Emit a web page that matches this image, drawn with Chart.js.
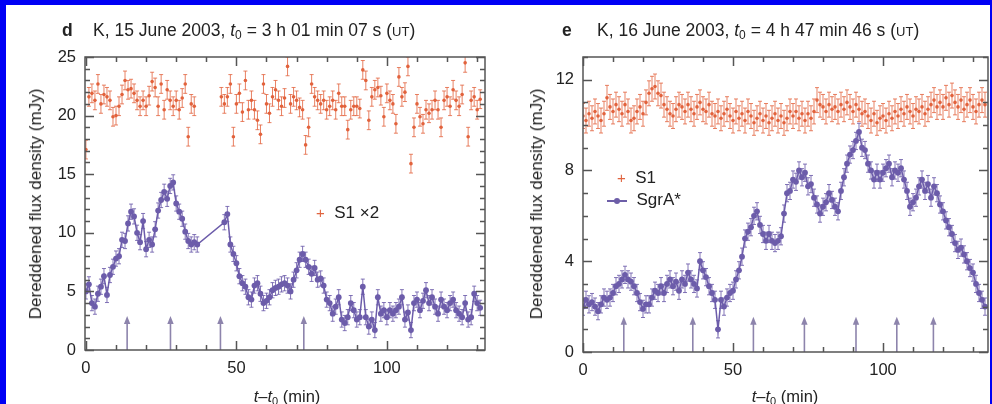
<!DOCTYPE html>
<html>
<head>
<meta charset="utf-8">
<script src="https://cdn.jsdelivr.net/npm/chart.js@4.4.0/dist/chart.umd.min.js"></script>
<style>
  html, body { margin: 0; padding: 0; }
  body { width: 992px; height: 404px; background: #0000f5; position: relative; overflow: hidden;
         font-family: "Liberation Sans", Arial, Helvetica, sans-serif; color: #222; }
  #sheet { position: absolute; left: 6px; top: 5px; width: 984px; height: 399px; background: #fff; }
  canvas { position: absolute; top: 0; }
  .txt { position: absolute; white-space: nowrap; font-size: 16px; line-height: 16px; }
  .hd { font-size: 17.5px; line-height: 18px; }
  .txt sub { font-size: 12px; vertical-align: -3px; line-height: 0; }
  .sc { font-size: 13px; }
  .ytitle { position: absolute; white-space: nowrap; font-size: 17px; transform: translate(-50%, -50%) rotate(-90deg); }
  .xtitle { position: absolute; white-space: nowrap; font-size: 16.5px; transform: translateX(-50%); }
  .xtitle sub { font-size: 11px; vertical-align: -3px; line-height: 0; }
  .plus { color: #e0643f; font-size: 15px; }
  .sym { display: inline-block; position: relative; width: 20px; height: 2px; background: #6d5ea8; vertical-align: middle; }
  .sym i { position: absolute; left: 7px; top: -2px; width: 6px; height: 6px; border-radius: 3px; background: #6d5ea8; }
</style>
</head>
<body>
<div id="sheet"></div>
<canvas id="chartD" width="496" height="404" style="left:0px"></canvas>
<canvas id="chartE" width="496" height="404" style="left:496px"></canvas>

<div class="txt hd" style="left:62px;top:21px;font-weight:bold">d</div>
<div class="txt hd" style="left:93px;top:21px">K, 15 June 2003, <i>t</i><sub>0</sub> = 3 h 01 min 07 s (<span class="sc">UT</span>)</div>
<div class="txt hd" style="left:562px;top:21px;font-weight:bold">e</div>
<div class="txt hd" style="left:597px;top:21px">K, 16 June 2003, <i>t</i><sub>0</sub> = 4 h 47 min 46 s (<span class="sc">UT</span>)</div>

<div class="ytitle" style="left:36px;top:204px">Dereddened flux density (mJy)</div>
<div class="ytitle" style="left:537px;top:204px">Dereddened flux density (mJy)</div>
<div class="xtitle" style="left:287px;top:387px"><i>t</i>–<i>t</i><sub>0</sub> (min)</div>
<div class="xtitle" style="left:785px;top:387px"><i>t</i>–<i>t</i><sub>0</sub> (min)</div>

<div class="txt" style="left:316px;top:205px;font-size:17px"><span class="plus">+</span>&nbsp; S1 ×2</div>
<div class="txt" style="left:617px;top:170px;font-size:17px"><span class="plus">+</span>&nbsp; S1</div>
<div class="txt" style="left:607px;top:192px;font-size:17px"><span class="sym"><i></i></span>&nbsp; SgrA*</div>

<script>
// panel d : 15 June 2003
const tSgrD = [0,1,2,3,4,5,6,7,8,9,10,11,12,13,14,15,16,17,18,19,20,21,22,23,24,25,26,27,28,29,30,31,32,33,34,35,36,37,
  46,47,48,49,50,51,52,53,54,55,56,57,58,59,60,61,62,63,64,65,66,67,68,69,70,71,72,73,74,75,76,77,78,79,80,81,82,83,84,85,
  86,87,88,89,90,91,92,93,94,95,96,97,98,99,100,101,102,103,104,105,106,107,108,109,110,111,112,113,114,115,116,117,118,119,120,
  121,122,123,124,125,126,127,128,129,130,131];
const sgrD = [5.0,5.6,4.0,3.7,4.8,5.4,6.3,4.7,6.4,7.1, 7.8,8.0,9.4,9.3,10.8,11.8,11.4,10.0,9.2,11.0,
  8.6,9.4,9.0,10.3,11.9,12.8,13.5,12.9,14.0,14.3, 12.5,11.8,11.2,10.1,9.3,9.0,9.2,9.0,
  10.9,11.6,9.0,8.2,7.4,6.3,5.7,5.4,4.5,4.3, 5.5,5.7,4.8,4.0,4.2,4.5,5.1,5.3,5.4,5.6,
  5.7,5.5,5.0,6.0,6.8,7.7,8.2,7.7,7.1,6.5, 7.0,6.0,6.1,5.5,4.3,4.0,3.1,3.7,4.5,2.6,
  2.3,2.8,4.0,3.4,2.6,2.8,5.4,2.8,2.0,2.6, 1.7,4.5,3.1,3.4,2.8,3.4,3.1,3.4,3.7,4.5,
  2.6,3.2,1.7,4.0,4.3,3.4,4.2,5.1,4.0,4.5, 3.7,3.1,4.3,3.7,3.4,4.0,4.3,3.4,3.1,2.8,
  4.0,2.6,2.8,4.8,4.0,3.6];
const tS1D = [0,1,2,3,4,5,6,7,8,9,10,11,12,13,14,15,16,17,18,19,20,21,22,23,24,25,26,27,28,29,30,31,32,33,34,35,36,
  45,46,47,48,49,50,51,52,53,54,55,56,57,58,59,60,61,62,63,64,65,66,67,68,69,70,71,72,73,74,75,76,77,78,79,80,81,82,83,84,
  85,86,87,88,89,90,91,92,93,94,95,96,97,98,99,100,101,102,103,104,105,106,107,108,109,110,111,112,113,114,115,116,117,118,119,
  120,121,122,123,124,125,126,127,128,129,130,131];
const s1D = [17.1,21.6,21.9,21.3,22.7,21.0,21.8,21.6,21.3,19.9, 20.0,20.8,21.8,23.0,22.2,22.3,21.9,21.3,20.8,21.3,
  20.8,21.7,22.9,22.4,20.8,22.7,20.5,22.2,21.3,20.8, 21.3,20.5,21.5,22.7,18.2,21.0,20.8,
  21.6,21.0,21.6,22.7,18.2,21.0,21.9,20.3,23.0,20.5, 21.3,20.5,19.6,18.4,22.7,21.0,20.2,21.6,22.2,21.3,
  20.8,21.5,24.2,21.0,21.6,21.3,20.7,20.5,17.5,19.0, 22.7,21.6,21.3,21.0,21.3,20.5,20.8,21.3,20.5,21.9,
  20.8,20.8,18.8,20.5,20.8,20.8,20.6,23.9,23.0,19.6, 21.6,22.2,22.4,21.7,19.9,21.9,21.3,21.0,19.3,23.3,
  21.6,22.0,24.2,15.9,19.0,21.0,19.9,19.3,20.5,20.2, 20.5,21.3,20.5,19.0,21.3,21.6,20.8,22.2,21.3,20.8,
  21.8,24.5,18.2,21.3,21.6,20.5,21.4];
const errSgrD = 0.65;
const errS1D = 0.8;
const arrowsD = [13.7, 28.1, 44.7, 72.4];
const arrowTopD = 2.9;

// panel e : 16 June 2003
const tE = [0,1,2,3,4,5,6,7,8,9,10,11,12,13,14,15,16,17,18,19,20,21,22,23,24,25,26,27,28,29,30,31,32,33,34,35,36,37,38,39,
  40,41,42,43,44,45,46,47,48,49,50,51,52,53,54,55,56,57,58,59,60,61,62,63,64,65,66,67,68,69,70,71,72,73,74,75,76,77,78,79,
  80,81,82,83,84,85,86,87,88,89,90,91,92,93,94,95,96,97,98,99,100,101,102,103,104,105,106,107,108,109,110,111,112,113,114,
  115,116,117,118,119,120,121,122,123,124,125,126,127,128,129,130,131,132,133,134];
const s1E = [10.4,10.2,10.5,10.3,10.6,10.4,10.2,10.5,11.2,10.8, 10.6,10.9,10.7,10.5,10.9,10.6,10.2,10.3,10.6,10.8,
  10.5,11.0,11.4,11.6,11.7,11.4,11.3,10.9,10.7,10.5, 10.4,10.7,10.9,10.8,10.6,10.9,10.7,10.5,10.8,11.0,
  10.7,10.6,10.9,10.5,10.4,10.6,10.3,10.5,10.7,10.4, 10.2,10.6,10.3,10.5,10.2,10.6,10.4,10.1,10.3,10.5,
  10.2,10.4,10.1,10.3,10.5,10.2,10.4,10.1,10.3,10.6, 10.4,10.6,10.3,10.5,10.2,10.5,10.3,10.6,11.1,10.9,
  10.8,10.6,10.9,10.7,10.8,10.6,10.9,10.7,11.0,10.8, 10.6,10.9,10.7,10.5,10.6,10.4,10.2,10.5,10.1,10.3,
  10.4,10.2,10.5,10.3,10.6,10.4,10.7,10.5,10.8,10.6, 10.4,10.7,10.6,10.8,10.5,10.7,10.9,11.1,10.8,11.0,
  10.8,11.2,10.9,11.3,11.0,10.8,11.1,10.7,10.9,11.1, 10.8,10.6,10.9,11.1,10.9];
const sgrE = [2.0,2.3,2.1,2.2,2.0,1.8,2.1,2.4,2.3,2.4, 2.6,2.9,3.0,3.2,3.4,3.2,3.1,2.9,2.6,2.2,
  1.9,2.1,2.1,2.4,2.7,2.6,2.9,2.6,3.0,3.2, 2.9,3.1,2.7,3.2,3.0,3.5,3.2,3.0,2.8,4.0,
  3.6,3.3,2.9,2.6,2.3,1.0,2.3,2.0,2.4,2.6, 2.7,3.2,3.6,4.2,5.0,5.3,5.5,6.0,6.2,5.6,
  5.2,4.9,5.2,4.9,4.8,4.9,5.1,6.1,7.0,7.1, 7.6,7.5,8.0,7.7,7.9,7.3,7.4,6.8,6.5,6.1,
  6.4,6.6,7.0,6.7,6.4,6.2,7.1,7.7,8.3,8.7, 8.9,9.3,9.7,9.0,8.9,8.3,8.0,7.6,7.9,7.6,
  7.9,8.1,8.3,7.7,8.0,7.9,8.1,7.6,7.1,6.4, 6.6,6.8,7.3,7.6,7.1,7.4,6.8,7.3,7.0,6.5,
  6.2,5.8,5.5,5.2,4.8,4.5,4.6,4.3,4.0,3.7, 3.5,3.0,2.6,2.3,2.0];
const errSgrE = 0.38;
const errS1E = 0.55;
const arrowsE = [13.6, 36.6, 56.8, 73.8, 91.0, 104.6, 116.8];
const arrowTopE = 1.55;

// axis tick values
const xLabelTicks = [0, 50, 100];
const yLabelTicksD = [0, 5, 10, 15, 20, 25];
const yLabelTicksE = [0, 4, 8, 12];

const S1_COLOR = '#e2623c';
const SGR_COLOR = '#6c5caa';
const ARROW_COLOR = '#8d84ac';

function pts(xs, ys) {
    return xs.map((x, i) => ({ x: x, y: ys[i] }));
}

// error bars drawn from the scales
const errorBars = {
    id: 'errorBars',
    beforeDatasetsDraw(chart) {
        const ctx = chart.ctx;
        const y = chart.scales.y;
        const a = chart.chartArea;
        ctx.save();
        ctx.beginPath();
        ctx.rect(a.left, a.top, a.right - a.left, a.bottom - a.top);
        ctx.clip();
        chart.data.datasets.forEach((ds, di) => {
            if (!ds.err) return;
            const meta = chart.getDatasetMeta(di);
            ctx.strokeStyle = ds.errColor;
            ctx.lineWidth = 1;
            ctx.beginPath();
            meta.data.forEach((p, i) => {
                const v = ds.data[i].y;
                const y1 = y.getPixelForValue(v + ds.err);
                const y2 = y.getPixelForValue(v - ds.err);
                ctx.moveTo(p.x, y1); ctx.lineTo(p.x, y2);
                ctx.moveTo(p.x - 2, y1); ctx.lineTo(p.x + 2, y1);
                ctx.moveTo(p.x - 2, y2); ctx.lineTo(p.x + 2, y2);
            });
            ctx.stroke();
        });
        ctx.restore();
    }
};

// arrows under the curves
const arrows = {
    id: 'arrows',
    beforeDatasetsDraw(chart, args, opts) {
        const ctx = chart.ctx;
        const { x, y } = chart.scales;
        ctx.save();
        ctx.strokeStyle = ARROW_COLOR;
        ctx.fillStyle = ARROW_COLOR;
        ctx.lineWidth = 1.6;
        opts.at.forEach(t => {
            const px = x.getPixelForValue(t);
            const y0 = y.getPixelForValue(0);
            const y1 = y.getPixelForValue(opts.top);
            ctx.beginPath();
            ctx.moveTo(px, y0); ctx.lineTo(px, y1 + 5);
            ctx.stroke();
            ctx.beginPath();
            ctx.moveTo(px, y1); ctx.lineTo(px - 3.2, y1 + 8); ctx.lineTo(px + 3.2, y1 + 8);
            ctx.closePath();
            ctx.fill();
        });
        ctx.restore();
    }
};

// box with inward ticks on all four sides
const frameTicks = {
    id: 'frameTicks',
    afterDraw(chart, args, opts) {
        const ctx = chart.ctx;
        const a = chart.chartArea;
        const { x, y } = chart.scales;
        ctx.save();
        ctx.strokeStyle = '#555';
        ctx.lineWidth = 1.5;
        ctx.strokeRect(a.left, a.top, a.right - a.left, a.bottom - a.top);
        ctx.beginPath();
        for (let v = 0; v <= x.max; v += opts.xMinor) {
            const px = Math.round(x.getPixelForValue(v)) + 0.5;
            const len = v % opts.xMajor === 0 ? 9 : 5;
            ctx.moveTo(px, a.bottom); ctx.lineTo(px, a.bottom - len);
            ctx.moveTo(px, a.top); ctx.lineTo(px, a.top + len);
        }
        for (let v = 0; v <= y.max; v += opts.yMinor) {
            const py = Math.round(y.getPixelForValue(v)) + 0.5;
            const len = v % opts.yMajor === 0 ? 9 : 5;
            ctx.moveTo(a.left, py); ctx.lineTo(a.left + len, py);
            ctx.moveTo(a.right, py); ctx.lineTo(a.right - len, py);
        }
        ctx.stroke();
        ctx.restore();
    }
};

function makePanel(id, cfg) {
    const tickFont = { family: '"Liberation Sans", Arial, sans-serif', size: 16.5 };
    return new Chart(document.getElementById(id), {
        type: 'scatter',
        data: {
            datasets: [
                {
                    label: 'S1',
                    data: cfg.s1,
                    showLine: false,
                    pointRadius: 1.8,
                    pointBackgroundColor: S1_COLOR,
                    pointBorderWidth: 0,
                    err: cfg.errS1,
                    errColor: 'rgba(226, 98, 60, 0.8)'
                },
                {
                    label: 'SgrA*',
                    data: cfg.sgr,
                    showLine: true,
                    borderColor: SGR_COLOR,
                    borderWidth: 1.5,
                    pointRadius: 2.9,
                    pointBackgroundColor: SGR_COLOR,
                    pointBorderWidth: 0,
                    err: cfg.errSgr,
                    errColor: 'rgba(108, 92, 170, 0.85)'
                }
            ]
        },
        options: {
            responsive: false,
            animation: false,
            layout: { padding: cfg.padding },
            plugins: {
                legend: { display: false },
                tooltip: { enabled: false },
                arrows: { at: cfg.arrows, top: cfg.arrowTop },
                frameTicks: { xMinor: 10, xMajor: 50, yMinor: 1, yMajor: cfg.yMajor }
            },
            scales: {
                x: {
                    type: 'linear',
                    min: cfg.xMin,
                    max: cfg.xMax,
                    grid: { display: false, drawTicks: false },
                    border: { display: false },
                    ticks: { font: tickFont, color: '#222', padding: 9, autoSkip: false, maxRotation: 0 },
                    afterBuildTicks: axis => { axis.ticks = xLabelTicks.map(v => ({ value: v })); },
                    afterFit: axis => { axis.height = 32; }
                },
                y: {
                    min: 0,
                    max: cfg.yMax,
                    grid: { display: false, drawTicks: false },
                    border: { display: false },
                    ticks: { font: tickFont, color: '#222', padding: 9, autoSkip: false },
                    afterBuildTicks: axis => { axis.ticks = cfg.yTicks.map(v => ({ value: v })); },
                    afterFit: axis => { axis.width = 30; }
                }
            }
        },
        plugins: [arrows, errorBars, frameTicks]
    });
}

makePanel('chartD', {
    s1: pts(tS1D, s1D),
    sgr: pts(tSgrD, sgrD),
    errS1: errS1D,
    errSgr: errSgrD,
    arrows: arrowsD,
    arrowTop: arrowTopD,
    xMin: -0.3, xMax: 132.6,
    yMax: 25, yTicks: yLabelTicksD, yMajor: 5,
    padding: { left: 55, top: 57, right: 11, bottom: 22 }
});

makePanel('chartE', {
    s1: pts(tE, s1E),
    sgr: pts(tE, sgrE),
    errS1: errS1E,
    errSgr: errSgrE,
    arrows: arrowsE,
    arrowTop: arrowTopE,
    xMin: 0, xMax: 135,
    yMax: 13, yTicks: yLabelTicksE, yMajor: 4,
    padding: { left: 57, top: 57, right: 4, bottom: 20 }
});
</script>
</body>
</html>
